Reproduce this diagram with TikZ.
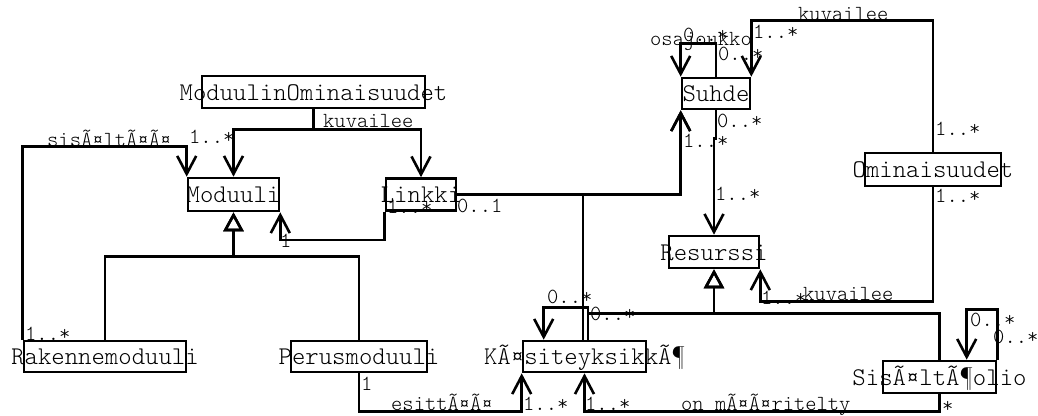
\documentclass[tikz,border=0pt]{standalone}
\usepackage{fontspec}
\newfontfamily\cmono{Latin Modern Mono Light}
\usetikzlibrary{arrows.meta,calc}
\tikzset{
  cls/.style={draw, line width=2.6pt, inner sep=0pt},
  ctext/.style={anchor=base, inner sep=0pt, font=\cmono\fontsize{25.5}{26}\selectfont},
  mult/.style={anchor=base west, inner sep=0pt, font=\cmono\fontsize{21.5}{22}\selectfont},
  conn/.style={line width=2.6pt},
  arr/.style={conn, -{Straight Barb[length=18pt,width=19pt]}},
  gen/.style={conn, {Triangle[open,length=19pt,width=20pt]}-},
}
\begin{document}
\begin{tikzpicture}[x=1pt,y=-1pt]
\useasboundingbox (0,0) rectangle (1038,415);

% classes
\node[cls, minimum width=223pt, minimum height=32pt] (mo) at (313.5,92) {};
\node[ctext] (mot) at (313.5,100) {ModuulinOminaisuudet};
\node[cls, minimum width=91pt, minimum height=33pt] (mod) at (233.5,194.5) {};
\node[ctext] (modt) at (233.5,202.5) {Moduuli};
\node[cls, minimum width=70pt, minimum height=32pt] (lnk) at (421,194.5) {};
\node[ctext] (lnkt) at (421,202.5) {Linkki};
\node[cls, minimum width=162pt, minimum height=31pt] (rak) at (105,356.5) {};
\node[ctext] (rakt) at (105,364.5) {Rakennemoduuli};
\node[cls, minimum width=136pt, minimum height=31pt] (per) at (359,356.5) {};
\node[ctext] (pert) at (359,364.5) {Perusmoduuli};
\node[cls, minimum width=123pt, minimum height=31pt] (kae) at (584.5,356.5) {};
\node[ctext] (kaet) at (584.5,364.5) {KÃ¤siteyksikkÃ¶};
\node[cls, minimum width=68pt, minimum height=31pt] (suh) at (716,93.5) {};
\node[ctext] (suht) at (716,101.5) {Suhde};
\node[cls, minimum width=90pt, minimum height=32pt] (res) at (714,252) {};
\node[ctext] (rest) at (714,260) {Resurssi};
\node[cls, minimum width=136pt, minimum height=33pt] (omi) at (933,169.5) {};
\node[ctext] (omit) at (933,177.5) {Ominaisuudet};
\node[cls, minimum width=113pt, minimum height=32pt] (sis) at (939.5,377) {};
\node[ctext] (sist) at (939.5,385) {SisÃ¤ltÃ¶olio};

% helper coordinates on the top of Kasiteyksikko
\coordinate (kaL) at ($(kae.north)+(-1.5,0)$);
\coordinate (kaR) at ($(kae.north)+(3.5,0)$);
\coordinate (kaA) at ($(kae.north west)+(22,0)$);
\coordinate (sisA) at ($(sis.north west)+(85,0)$);

% ModuulinOminaisuudet kuvailee Moduuli / Linkki
\draw[arr] (mo.south) -- ++(0,20) -| (mod.north);
\draw[arr] (mo.south) -- ++(0,20) -| (lnk.north);
\node[mult] (l1) at (323,127) {kuvailee};
\node[mult] (l2) at (189,143) {1..*};

% Rakennemoduuli sisaltaa Moduuli
\draw[arr] (rak.north west) -- ++(0,-193) -| (mod.north west);
\node[mult] (l3) at (47,146) {sisÃ¤ltÃ¤Ã¤};
\node[mult] (l4) at (25,340) {1..*};

% generalization to Moduuli
\draw[gen] (mod.south) -- ++(0,44) -| (rak.north);
\draw[gen] (mod.south) -- ++(0,44) -| (per.north);

% Linkki -> Moduuli
\draw[arr] (lnk.south west) -- ++(0,28) -| (mod.south east);
\node[mult] (l5) at (280,247) {1};
\node[mult] (l6) at (387,213) {1..*};

% Linkki -> Suhde and Kasiteyksikko -> Suhde
\draw[arr] (lnk.east) -| (suh.south west);
\draw[arr] (kaL) -- (kaL |- lnk.east) -| (suh.south west);
\node[mult] (l7) at (457,212) {0..1};
\node[mult] (l8) at (683,147) {1..*};

% Suhde self loop
\draw[arr] (suh.north) -- ++(0,-33) -| (suh.north west);
\node[mult] (l9) at (650,45) {osajoukko};
\node[mult] (l10) at (683,41) {0..*};
\node[mult] (l11) at (718,60) {0..*};

% Suhde -> Resurssi
\draw[arr] (suh.south) -- ++(0,28) -- ++(-2,0) -- (res.north);
\node[mult] (l12) at (717,127) {0..*};
\node[mult] (l13) at (715,200) {1..*};

% Ominaisuudet kuvailee Suhde
\draw[arr] (omi.north) -- ++(0,-131) -| (suh.north east);
\node[mult] (l14) at (798,20) {kuvailee};
\node[mult] (l15) at (753,38) {1..*};
\node[mult] (l16) at (935,135) {1..*};

% Ominaisuudet kuvailee Resurssi
\draw[arr] (omi.south) -- ++(0,114) -| (res.south east);
\node[mult] (l17) at (935,202) {1..*};
\node[mult] (l18) at (761,304) {1..*};
\node[mult] (l19) at (803,300) {kuvailee};

% generalization to Resurssi
\draw[gen] (res.south) -- ++(0,44) -| (kaR);
\draw[gen] (res.south) -- ++(0,44) -| (sis.north);

% Kasiteyksikko self loop
\draw[arr] (kaR) -- ++(0,-32) -| (kaA);
\node[mult] (l20) at (547,303) {0..*};
\node[mult] (l21) at (590,320) {0..*};

% Sisaltoolio self loop
\draw[arr] (sis.north east) -- ++(0,-50) -| (sisA);
\node[mult] (l22) at (970,326) {0..*};
\node[mult] (l23) at (993,343) {0..*};

% Sisaltoolio on maaritelty Kasiteyksikko
\draw[arr] (sis.south) -- ++(0,17) -| (kae.south);
\node[mult] (l24) at (942,412) {*};
\node[mult] (l25) at (585,410) {1..*};
\node[mult] (l26) at (681,410) {on mÃ¤Ã¤ritelty};

% Perusmoduuli esittaa Kasiteyksikko
\draw[arr] (per.south) -- ++(0,38) -| (kae.south west);
\node[mult] (l27) at (361,390) {1};
\node[mult] (l28) at (391,410) {esittÃ¤Ã¤};
\node[mult] (l29) at (523,410) {1..*};
\end{tikzpicture}
\end{document}
